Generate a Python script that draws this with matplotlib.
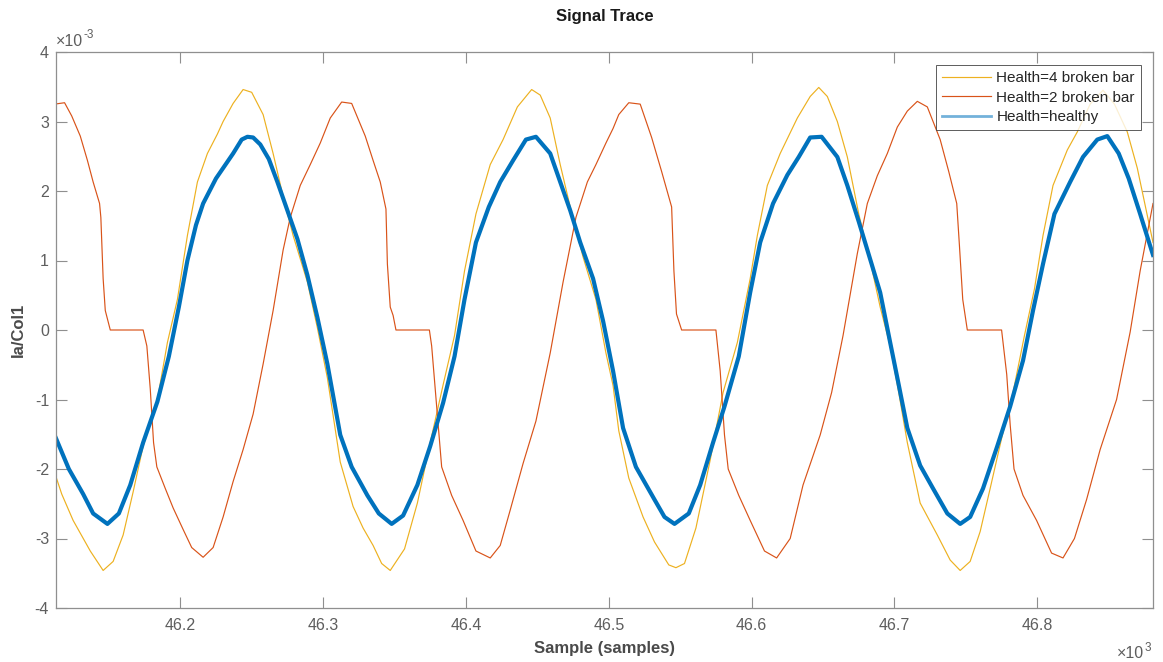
import numpy as np
import matplotlib
matplotlib.use("Agg")
import matplotlib.pyplot as plt

plt.rcParams['font.family'] = ['Liberation Sans', 'DejaVu Sans']
plt.rcParams['axes.unicode_minus'] = False

# --- signal samples (sample index, amplitude in units of 1e-3) ---
healthy_x = [46112, 46122, 46132, 46139, 46149, 46157, 46165, 46174, 46184, 46192,
             46199, 46205, 46211, 46216, 46225, 46230, 46237, 46243, 46247, 46251,
             46256, 46262, 46268, 46275, 46282, 46289, 46296, 46303, 46312, 46320,
             46331, 46339, 46348, 46356, 46366, 46375, 46384, 46392, 46399, 46407,
             46416, 46424, 46433, 46442, 46449, 46459, 46466, 46473, 46480, 46489,
             46496, 46503, 46510, 46519, 46532, 46539, 46546, 46556, 46564, 46573,
             46581, 46591, 46599, 46606, 46615, 46625, 46633, 46641, 46649, 46660,
             46667, 46675, 46684, 46690, 46697, 46703, 46709, 46718, 46727, 46737,
             46746, 46753, 46762, 46772, 46781, 46790, 46797, 46804, 46812, 46823,
             46832, 46842, 46849, 46857, 46864, 46872, 46881]
healthy_y = [-1.51, -2.00, -2.36, -2.64, -2.79, -2.64, -2.23, -1.62, -1.03, -0.38,
             0.33, 1.00, 1.51, 1.82, 2.18, 2.33, 2.54, 2.74, 2.78, 2.77,
             2.67, 2.46, 2.13, 1.72, 1.31, 0.79, 0.18, -0.49, -1.51, -1.97,
             -2.38, -2.64, -2.79, -2.67, -2.23, -1.67, -1.05, -0.38, 0.44, 1.26,
             1.77, 2.13, 2.44, 2.74, 2.78, 2.54, 2.13, 1.72, 1.26, 0.74,
             0.13, -0.59, -1.41, -1.97, -2.44, -2.69, -2.79, -2.64, -2.23, -1.62,
             -1.10, -0.38, 0.54, 1.26, 1.82, 2.23, 2.49, 2.77, 2.78, 2.49,
             2.08, 1.56, 0.95, 0.54, -0.18, -0.79, -1.41, -1.95, -2.28, -2.64,
             -2.79, -2.69, -2.28, -1.67, -1.10, -0.44, 0.28, 0.95, 1.67, 2.13,
             2.49, 2.74, 2.79, 2.54, 2.18, 1.67, 1.08]

bar4_x = [46112, 46117, 46125, 46137, 46146, 46153, 46160, 46167, 46174, 46184,
          46191, 46198, 46205, 46212, 46219, 46226, 46230, 46237, 46244, 46250,
          46258, 46265, 46272, 46279, 46289, 46296, 46303, 46312, 46321, 46328,
          46335, 46341, 46347, 46357, 46366, 46375, 46384, 46392, 46399, 46407,
          46417, 46426, 46436, 46446, 46452, 46459, 46466, 46473, 46482, 46491,
          46498, 46503, 46507, 46514, 46524, 46532, 46542, 46547, 46553, 46561,
          46571, 46580, 46590, 46599, 46604, 46611, 46620, 46632, 46641, 46647,
          46653, 46660, 46667, 46675, 46684, 46690, 46697, 46703, 46709, 46718,
          46730, 46739, 46746, 46753, 46760, 46767, 46775, 46783, 46791, 46798,
          46804, 46811, 46821, 46828, 46837, 46846, 46854, 46863, 46870, 46881]
bar4_y = [-2.05, -2.36, -2.74, -3.18, -3.46, -3.33, -2.95, -2.33, -1.67, -1.00,
          -0.18, 0.44, 1.36, 2.13, 2.54, 2.82, 3.00, 3.26, 3.46, 3.42,
          3.10, 2.54, 1.92, 1.36, 0.69, 0.03, -0.69, -1.90, -2.54, -2.85,
          -3.10, -3.36, -3.46, -3.15, -2.49, -1.62, -0.79, -0.08, 0.85, 1.67,
          2.38, 2.74, 3.21, 3.46, 3.38, 3.05, 2.38, 1.77, 1.05, 0.44,
          -0.33, -0.80, -1.45, -2.13, -2.69, -3.05, -3.38, -3.42, -3.36, -2.85,
          -1.87, -0.90, -0.18, 0.74, 1.36, 2.08, 2.54, 3.05, 3.36, 3.49,
          3.36, 3.00, 2.49, 1.67, 0.90, 0.33, -0.23, -0.90, -1.62, -2.49,
          -2.95, -3.31, -3.46, -3.33, -2.90, -2.28, -1.56, -0.90, -0.08, 0.59,
          1.36, 2.08, 2.59, 2.85, 3.25, 3.45, 3.25, 2.85, 2.33, 1.26]

bar2_x = [46112, 46119, 46124, 46130, 46135, 46139, 46143.5, 46144.4, 46146, 46147.5,
          46151, 46174, 46176.6, 46179, 46181.3, 46183.6, 46189.5, 46195, 46202, 46208,
          46216, 46223, 46230, 46237, 46244, 46251, 46258, 46265, 46272, 46277,
          46284, 46291, 46298, 46305, 46313, 46320, 46329.5, 46335, 46340, 46344,
          46345, 46347, 46349, 46351, 46374.4, 46376, 46379.5, 46383, 46390, 46398,
          46407, 46417, 46424, 46431, 46440, 46449, 46459, 46468, 46477, 46485,
          46491, 46498, 46503, 46507, 46514, 46522, 46530, 46537, 46544, 46545.6,
          46547.4, 46551, 46575, 46578, 46581, 46583.6, 46591, 46599, 46609, 46617.5,
          46627, 46636, 46648, 46656, 46664, 46674, 46681, 46688, 46695, 46702,
          46709, 46716, 46723, 46732, 46738, 46743.6, 46745.5, 46747.8, 46751, 46775,
          46778.6, 46781, 46783.7, 46790, 46799.5, 46810, 46818, 46826, 46834.5, 46844,
          46855.5, 46865, 46872, 46881]
bar2_y = [3.25, 3.27, 3.08, 2.79, 2.44, 2.13, 1.82, 1.62, 0.74, 0.28,
          0.00, 0.00, -0.23, -0.85, -1.62, -1.97, -2.28, -2.56, -2.87, -3.13,
          -3.27, -3.13, -2.69, -2.18, -1.72, -1.21, -0.49, 0.28, 1.15, 1.62,
          2.08, 2.38, 2.69, 3.05, 3.28, 3.26, 2.79, 2.44, 2.13, 1.74,
          0.95, 0.33, 0.21, 0.00, 0.00, -0.23, -1.10, -1.97, -2.38, -2.74,
          -3.18, -3.28, -3.10, -2.59, -1.92, -1.31, -0.33, 0.69, 1.62, 2.13,
          2.38, 2.69, 2.90, 3.10, 3.27, 3.25, 2.77, 2.28, 1.77, 0.85,
          0.23, 0.00, 0.00, -0.59, -1.51, -2.00, -2.38, -2.74, -3.18, -3.28,
          -3.00, -2.23, -1.51, -0.90, -0.08, 1.10, 1.82, 2.22, 2.54, 2.92,
          3.15, 3.29, 3.21, 2.74, 2.28, 1.82, 1.21, 0.44, 0.00, 0.00,
          -0.64, -1.36, -2.00, -2.38, -2.74, -3.21, -3.28, -3.00, -2.44, -1.72,
          -1.00, -0.03, 0.85, 1.82]

x_ticks = [46200, 46300, 46400, 46500, 46600, 46700, 46800]
y_ticks = [-4, -3, -2, -1, 0, 1, 2, 3, 4]

AX_GRAY = '#8f8f8f'
TXT_GRAY = '#5e5e5e'

fig = plt.figure(figsize=(11.63, 6.62), dpi=100)
ax = fig.add_axes([56 / 1163, 1 - 608 / 662, 1097 / 1163, 556 / 662])

ax.plot(bar4_x, bar4_y, color='#EDB120', lw=0.85, label='Health=4 broken bar')
ax.plot(bar2_x, bar2_y, color='#D95319', lw=0.85, label='Health=2 broken bar')
ax.plot(healthy_x, healthy_y, color='#0072BD', lw=3.0, label='Health=healthy',
        solid_joinstyle='round')

ax.set_xlim(46113, 46881)
ax.set_ylim(-4, 4)
ax.set_xticks(x_ticks)
ax.set_xticklabels([f"{t / 1000:.1f}" for t in x_ticks])
ax.set_yticks(y_ticks)
ax.set_yticklabels([str(t) for t in y_ticks])

for s in ax.spines.values():
    s.set_color(AX_GRAY)
    s.set_linewidth(0.9)
ax.tick_params(direction='in', top=True, right=True, length=8, width=0.8,
               color=AX_GRAY, labelcolor=TXT_GRAY, labelsize=11.5)
ax.tick_params(axis='x', pad=7)
ax.tick_params(axis='y', pad=5)

# exponent markers, MATLAB style: "x10" with a small superscript next to it
top_exp = ax.text(0.0, 1.006, '\u00d710', transform=ax.transAxes,
                  ha='left', va='bottom', fontsize=11.5, color=TXT_GRAY)
ax.annotate('-3', xy=(1, 1), xycoords=top_exp, xytext=(0.5, 3),
            textcoords='offset points', ha='left', va='top',
            fontsize=8.5, color=TXT_GRAY)
bot_exp = ax.text(1.0 - 9 / 1097, -50 / 556, '\u00d710', transform=ax.transAxes,
                  ha='right', va='baseline', fontsize=11.5, color=TXT_GRAY)
ax.annotate('3', xy=(1, 1), xycoords=bot_exp, xytext=(0.5, 3),
            textcoords='offset points', ha='left', va='top',
            fontsize=8.5, color=TXT_GRAY)

ax.text(0.5, 1 + 36 / 556, 'Signal Trace', transform=ax.transAxes,
        ha='center', va='center', fontsize=12, fontweight='bold', color='#1a1a1a')
ax.set_xlabel('Sample (samples)', fontsize=12, fontweight='bold', color='#4a4a4a')
ax.xaxis.set_label_coords(0.5, -40 / 556)
ax.xaxis.label.set_va('center')
ax.set_ylabel('Ia/Col1', fontsize=12, fontweight='bold', color='#4a4a4a')
ax.yaxis.set_label_coords(-38 / 1097, 0.5)
ax.yaxis.label.set_va('center')

leg = ax.legend(loc='upper right', bbox_to_anchor=(1085 / 1097, 1 - 13 / 556),
                borderaxespad=0, fancybox=False, fontsize=11, handlelength=3.2,
                handletextpad=0.35, labelspacing=0.36, borderpad=0.4)
leg.get_frame().set_edgecolor('#333333')
leg.get_frame().set_linewidth(0.7)
for txt in leg.get_texts():
    txt.set_color('#262626')
leg.get_lines()[2].set_linewidth(2.0)
leg.get_lines()[2].set_alpha(0.55)

fig.savefig('out.png', dpi=100)
